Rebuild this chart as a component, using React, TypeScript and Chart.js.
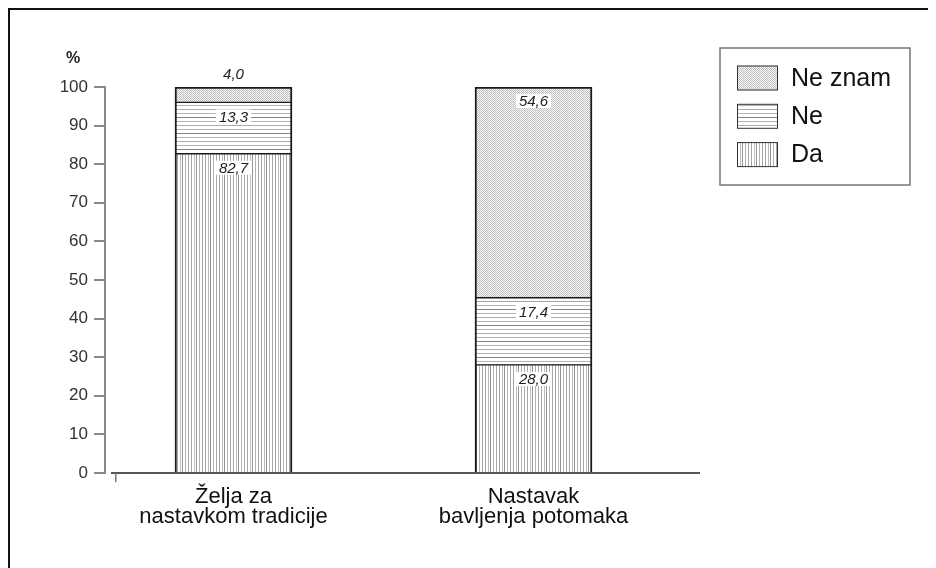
import React, { useEffect, useRef } from 'react';
import { Chart, registerables } from 'chart.js';

Chart.register(...registerables);

const categories = ['Želja za nastavkom tradicije', 'Nastavak bavljenja potomaka'];
const categoryLines = [
  ['Želja za', 'nastavkom tradicije'],
  ['Nastavak', 'bavljenja potomaka'],
];
const seriesNames = ['Da', 'Ne', 'Ne znam'];
const daValues = [82.7, 28.0];
const neValues = [13.3, 17.4];
const neZnamValues = [4.0, 54.6];
const yTickValues = [0, 10, 20, 30, 40, 50, 60, 70, 80, 90, 100];
const yUnit = '%';

const FONT = '"Liberation Sans", Arial, sans-serif';

function makePattern(w: number, h: number, draw: (c: CanvasRenderingContext2D) => void) {
  const c = document.createElement('canvas');
  c.width = w;
  c.height = h;
  const x = c.getContext('2d')!;
  x.fillStyle = '#ffffff';
  x.fillRect(0, 0, w, h);
  draw(x);
  return x.createPattern(c, 'repeat')!;
}

export default function App() {
  const ref = useRef<HTMLCanvasElement>(null);

  useEffect(() => {
    const canvas = ref.current!;
    const vertical = makePattern(14, 1, (c) => {
      const cols: [number, string][] = [[1, '#a4a4a4'], [4, '#bcbcbc'], [6, '#959595'], [9, '#b2b2b2'], [12, '#a8a8a8']];
      cols.forEach(([x, col]) => { c.fillStyle = col; c.fillRect(x, 0, 1, 1); });
    });
    const horizontal = makePattern(1, 16, (c) => {
      const rows: [number, string][] = [[1, '#b4b4b4'], [5, '#acacac'], [9, '#b8b8b8'], [13, '#858585']];
      rows.forEach(([y, col]) => { c.fillStyle = col; c.fillRect(0, y, 1, 1); });
    });
    const stipple = makePattern(2, 2, (c) => {
      c.fillStyle = '#c0c0c0';
      c.fillRect(0, 0, 1, 1);
      c.fillRect(1, 1, 1, 1);
      c.fillStyle = '#f0f0f0';
      c.fillRect(1, 0, 1, 1);
    });
    const patterns = [vertical, horizontal, stipple];

    const toPoints = (vals: number[]) => vals.map((v, i) => ({ x: i + 1, y: v }));
    const seriesValues = [daValues, neValues, neZnamValues];
    const borders = [
      { left: 2, right: 2, top: 1, bottom: 0 },
      { left: 2, right: 2, top: 1, bottom: 1 },
      { left: 2, right: 2, top: 2, bottom: 1 },
    ];

    const framePlugin = {
      id: 'frame',
      beforeDatasetsDraw(chart: any) {
        const ctx = chart.ctx as CanvasRenderingContext2D;
        const { left, right, bottom } = chart.chartArea;
        ctx.save();
        ctx.fillStyle = '#555';
        ctx.fillRect(left + 6, bottom - 1, right - left - 6, 2);
        ctx.fillStyle = '#777';
        ctx.fillRect(left + 10, bottom, 1.5, 9);
        ctx.restore();
      },
      afterDraw(chart: any) {
        const ctx = chart.ctx as CanvasRenderingContext2D;
        ctx.save();
        ctx.fillStyle = '#111';
        ctx.fillRect(0, 0, chart.width, 2);
        ctx.fillRect(0, 0, 2, chart.height);
        // unit label
        ctx.font = `bold 16px ${FONT}`;
        ctx.fillStyle = '#222';
        ctx.textAlign = 'center';
        ctx.textBaseline = 'middle';
        ctx.fillText(yUnit, chart.scales.y.right - 32, chart.chartArea.top - 28);
        // legend
        const lx = 712, ly = 40, lw = 190, lh = 137;
        ctx.strokeStyle = '#777';
        ctx.lineWidth = 1.5;
        ctx.strokeRect(lx, ly, lw, lh);
        const order = [2, 1, 0];
        order.forEach((di, k) => {
          const cy = 70 + k * 38.3;
          ctx.fillStyle = patterns[di];
          ctx.fillRect(729, cy - 12.5, 41, 25);
          ctx.strokeStyle = '#333';
          ctx.lineWidth = 1;
          ctx.strokeRect(729.5, cy - 12, 40, 24);
          ctx.fillStyle = '#111';
          ctx.font = `25px ${FONT}`;
          ctx.textAlign = 'left';
          ctx.textBaseline = 'middle';
          ctx.fillText(seriesNames[di], 783, cy + 1);
        });
        ctx.restore();
      },
      afterDatasetsDraw(chart: any) {
        const ctx = chart.ctx as CanvasRenderingContext2D;
        ctx.save();
        ctx.font = `italic 15px ${FONT}`;
        ctx.textAlign = 'center';
        ctx.textBaseline = 'middle';
        chart.data.datasets.forEach((ds: any, di: number) => {
          const meta = chart.getDatasetMeta(di);
          meta.data.forEach((bar: any, i: number) => {
            const v = ds.data[i].y as number;
            const txt = v.toFixed(1).replace('.', ',');
            const h = bar.base - bar.y;
            const y = h > 24 ? bar.y + 14 : bar.y - 13;
            const w = ctx.measureText(txt).width;
            ctx.fillStyle = '#ffffff';
            ctx.fillRect(bar.x - w / 2 - 3, y - 7, w + 6, 14);
            ctx.fillStyle = '#222';
            ctx.fillText(txt, bar.x, y + 1);
          });
        });
        ctx.restore();
      },
    };

    const chart = new Chart(canvas, {
      type: 'bar',
      data: {
        datasets: seriesNames.map((name, di) => ({
          label: name,
          data: toPoints(seriesValues[di]) as any,
          backgroundColor: patterns[di] as any,
          borderColor: '#1a1a1a',
          borderWidth: borders[di] as any,
          borderSkipped: false as any,
          barThickness: 117,
        })),
      },
      options: {
        animation: false,
        responsive: false,
        devicePixelRatio: 1,
        layout: { padding: { top: 79, right: 236, bottom: 0, left: 0 } },
        plugins: { legend: { display: false }, tooltip: { enabled: false } },
        scales: {
          x: {
            type: 'linear',
            stacked: true,
            offset: false,
            bounds: 'data',
            min: 0.5717,
            max: 2.555,
            afterBuildTicks: (scale: any) => {
              scale.ticks = categories.map((_, i) => ({ value: i + 1 }));
            },
            afterFit: (scale: any) => { scale.height = 95; },
            grid: { display: false, drawTicks: false },
            border: { display: false },
            ticks: {
              autoSkip: false,
              maxRotation: 0,
              padding: 13,
              color: '#111',
              font: { family: FONT, size: 22, lineHeight: 0.95 },
              callback: (v: any) => categoryLines[Math.round(v) - 1] ?? '',
            },
          },
          y: {
            stacked: true,
            min: 0,
            max: 100,
            afterBuildTicks: (scale: any) => {
              scale.ticks = yTickValues.map((v) => ({ value: v }));
            },
            afterFit: (scale: any) => { scale.width = 97; },
            grid: { display: true, drawOnChartArea: false, drawTicks: true, tickLength: 11, color: '#888', lineWidth: 2 },
            border: { display: true, color: '#888', width: 2 },
            ticks: {
              padding: 6,
              color: '#333',
              font: { family: FONT, size: 17 },
            },
          },
        },
      },
      plugins: [framePlugin],
    });
    return () => chart.destroy();
  }, []);

  return (
    <div style={{ width: 928, height: 560 }}>
      <canvas ref={ref} width={928} height={560} style={{ display: 'block', width: 928, height: 560 }} />
    </div>
  );
}
